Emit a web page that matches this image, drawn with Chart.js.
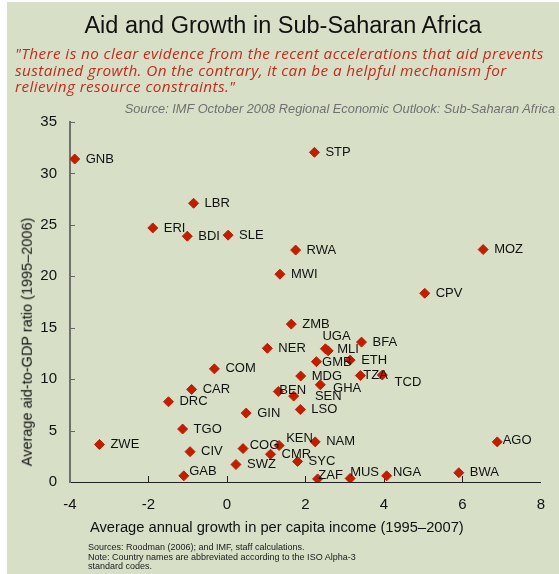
<!DOCTYPE html>
<html>
<head>
<meta charset="utf-8">
<script src="https://cdn.jsdelivr.net/npm/chart.js@4.4.1/dist/chart.umd.min.js"></script>
<style>
  html, body { margin: 0; padding: 0; background: #fff; }
  #page { position: relative; width: 559px; height: 574px; overflow: hidden; }
  #panel { position: absolute; left: 7px; top: 2px; width: 552px; height: 572px; background: #d7e0c7; }
  #chart { position: absolute; left: 0; top: 0; }
  .txt { position: absolute; white-space: nowrap; font-family: "Liberation Sans", Arial, sans-serif; line-height: 1; }
  #title { left: 7px; width: 552px; top: 14px; text-align: center; font-size: 23.5px; color: #111; }
  #quote { left: 15px; top: 45px; font-family: "Open Sans", sans-serif; font-style: italic; font-size: 15.3px; letter-spacing: 0.4px; line-height: 16.7px; color: #c42a1c; }
  #source { right: 4px; top: 102.5px; font-size: 12.8px; font-style: italic; color: #707070; }
  #xtitle { left: 90px; top: 519.5px; font-size: 14.7px; color: #111; }
  #ytitle { left: 26.5px; top: 342px; font-size: 14.5px; color: #111; transform: translate(-50%, -50%) rotate(-90deg); }
  #notes { left: 88px; top: 543px; font-size: 9px; line-height: 9.5px; color: #1a1a1a; }
</style>
</head>
<body>
<div id="page">
  <div id="panel"></div>
  <canvas id="chart" width="559" height="574"></canvas>
  <div class="txt" id="title">Aid and Growth in Sub-Saharan Africa</div>
  <div class="txt" id="quote">"There is no clear evidence from the recent accelerations that aid prevents<br>sustained growth. On the contrary, it can be a helpful mechanism for<br>relieving resource constraints."</div>
  <div class="txt" id="source">Source: IMF October 2008 Regional Economic Outlook: Sub-Saharan Africa</div>
  <div class="txt" id="ytitle">Average aid-to-GDP ratio (1995–2006)</div>
  <div class="txt" id="xtitle">Average annual growth in per capita income (1995–2007)</div>
  <div class="txt" id="notes">Sources: Roodman (2006); and IMF, staff calculations.<br>Note: Country names are abbreviated according to the ISO Alpha-3<br>standard codes.</div>
</div>
<script>
// country codes, growth (x) and aid (y)
const codes = ["GNB", "LBR", "ERI", "BDI", "SLE", "STP", "RWA", "MOZ", "MWI", "CPV",
  "ZMB", "NER", "UGA", "MLI", "BFA", "GMB", "ETH", "MDG", "TZA", "TCD",
  "GHA", "BEN", "SEN", "LSO", "COM", "CAR", "DRC", "GIN", "TGO", "ZWE",
  "CIV", "COG", "KEN", "CMR", "NAM", "SYC", "SWZ", "GAB", "ZAF", "MUS",
  "NGA", "BWA", "AGO"];
const growth = [-3.88, -0.85, -1.89, -1.01, 0.03, 2.23, 1.75, 6.53, 1.35, 5.04,
  1.64, 1.03, 2.51, 2.58, 3.43, 2.28, 3.14, 1.88, 3.40, 3.96,
  2.38, 1.31, 1.70, 1.87, -0.32, -0.90, -1.49, 0.49, -1.13, -3.25,
  -0.94, 0.41, 1.33, 1.11, 2.25, 1.80, 0.23, -1.10, 2.31, 3.14,
  4.07, 5.91, 6.89];
const aid = [31.4, 27.1, 24.7, 23.9, 24.0, 32.05, 22.55, 22.6, 20.2, 18.35,
  15.35, 13.0, 12.95, 12.75, 13.6, 11.7, 11.85, 10.3, 10.35, 10.4,
  9.45, 8.8, 8.35, 7.05, 11.0, 9.0, 7.8, 6.7, 5.15, 3.65,
  2.95, 3.25, 3.55, 2.7, 3.9, 2.0, 1.7, 0.6, 0.3, 0.35,
  0.6, 0.9, 3.9];
const xTicks = [-4, -2, 0, 2, 4, 6, 8];
const yTicks = [0, 5, 10, 15, 20, 25, 30, 35];

// label placement (px from the marker centre), default is to the right
const labelShift = {
  UGA: [-3, -12.7], MLI: [9, -1.7], GMB: [5.7, 0.6], TZA: [3, 0],
  TCD: [12.3, 7.7], GHA: [12.7, 4], BEN: [1, -1.3], SEN: [21.3, 0.4],
  COG: [6.6, -3.3], KEN: [7, -7.4], GAB: [5.4, -4], ZAF: [0.7, -3.7],
  MUS: [0, -6.3], NGA: [6.3, -3], AGO: [5.4, -1.7]
};

const RED = "#c01e00";
Chart.defaults.font.family = "'Liberation Sans', Arial, sans-serif";
Chart.defaults.color = "#111";

const points = codes.map((c, i) => ({ x: growth[i], y: aid[i], code: c }));

// country labels next to each marker
const pointLabels = {
  id: "pointLabels",
  afterDatasetsDraw(chart) {
    const ctx = chart.ctx;
    const meta = chart.getDatasetMeta(0);
    ctx.save();
    ctx.font = "13px 'Liberation Sans', Arial, sans-serif";
    ctx.fillStyle = "#111";
    ctx.textAlign = "left";
    ctx.textBaseline = "middle";
    meta.data.forEach((el, i) => {
      const s = labelShift[codes[i]] || [11, 0];
      ctx.fillText(codes[i], el.x + s[0], el.y + s[1]);
    });
    ctx.restore();
  }
};

// short tick marks pointing into the plot
const innerTicks = {
  id: "innerTicks",
  beforeDatasetsDraw(chart) {
    const ctx = chart.ctx;
    const xs = chart.scales.x, ys = chart.scales.y;
    const area = chart.chartArea;
    ctx.save();
    ctx.lineWidth = 1;
    ctx.strokeStyle = "#666";
    yTicks.slice(1).forEach(v => {
      const py = Math.round(ys.getPixelForValue(v)) + 0.5;
      ctx.beginPath();
      ctx.moveTo(area.left, py);
      ctx.lineTo(area.left + 5, py);
      ctx.stroke();
    });
    ctx.strokeStyle = "#222";
    xTicks.slice(1, -1).forEach(v => {
      const px = Math.round(xs.getPixelForValue(v)) + 0.5;
      ctx.beginPath();
      ctx.moveTo(px, area.bottom);
      ctx.lineTo(px, area.bottom - 6);
      ctx.stroke();
    });
    ctx.restore();
  }
};

new Chart(document.getElementById("chart").getContext("2d"), {
  type: "scatter",
  data: {
    datasets: [{
      data: points,
      pointStyle: "rectRot",
      pointRadius: 5,
      borderWidth: 1,
      backgroundColor: RED,
      borderColor: RED
    }]
  },
  options: {
    responsive: false,
    devicePixelRatio: 1,
    animation: false,
    layout: { padding: { left: 7, right: 11, top: 122, bottom: 0 } },
    plugins: { legend: { display: false }, tooltip: { enabled: false } },
    scales: {
      x: {
        type: "linear",
        min: -4, max: 8,
        afterBuildTicks: (axis) => { axis.ticks = xTicks.map(v => ({ value: v })); },
        afterFit: (axis) => { axis.height = 92; },
        grid: { display: false, drawTicks: false },
        border: { display: true, color: "#222", width: 1 },
        ticks: { padding: 14, font: { size: 15 }, color: "#111", maxRotation: 0 }
      },
      y: {
        type: "linear",
        min: 0, max: 35,
        afterBuildTicks: (axis) => { axis.ticks = yTicks.map(v => ({ value: v })); },
        afterFit: (axis) => { axis.width = 63; },
        grid: { display: false, drawTicks: false },
        border: { display: true, color: "#707070", width: 2 },
        ticks: { padding: 13, font: { size: 15 }, color: "#111" }
      }
    }
  },
  plugins: [innerTicks, pointLabels]
});
</script>
</body>
</html>
